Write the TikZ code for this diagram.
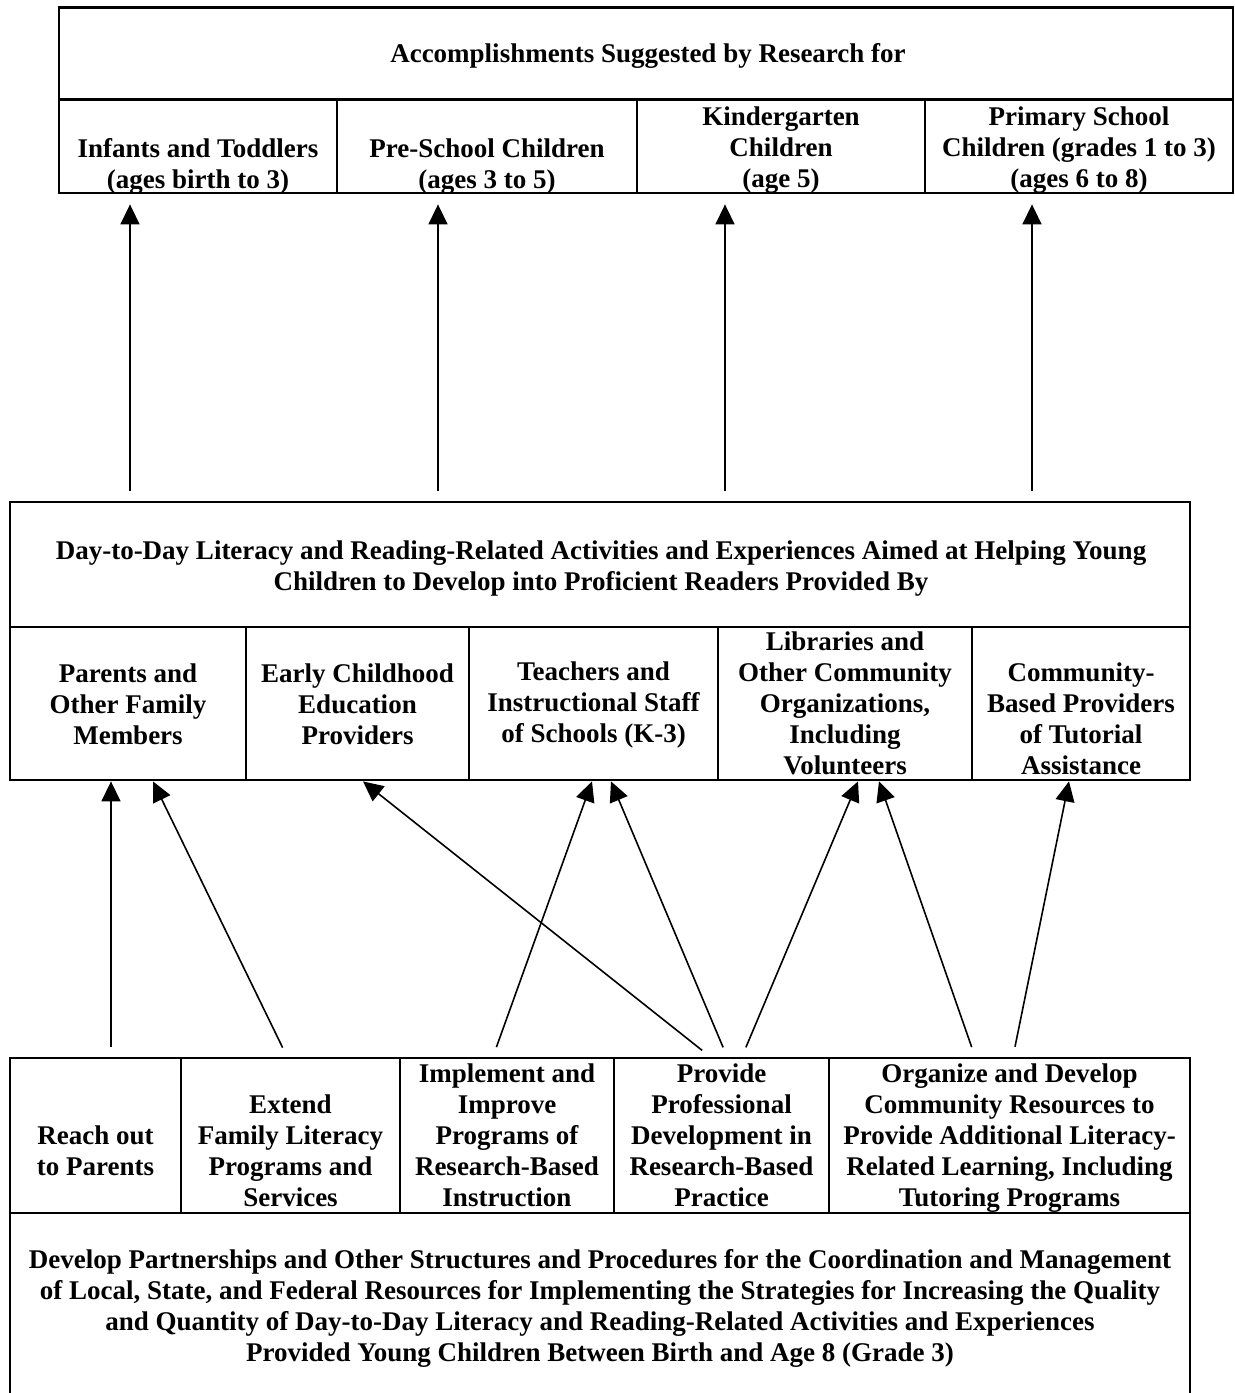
\documentclass[tikz,border=0pt]{standalone}
\usepackage{fontspec}
\setmainfont{Liberation Serif}
\usetikzlibrary{positioning, arrows.meta}

\begin{document}
\begin{tikzpicture}[
    x=0.5pt, y=-0.5pt,
    >={Triangle[length=10pt, width=9.5pt]},
    box/.style={draw, line width=1.4pt, inner sep=0pt},
    txt/.style={align=center, inner sep=0pt,
        font=\fontsize{13.5}{15.5}\selectfont\bfseries},
    arr/.style={->, line width=0.8pt}
]
\useasboundingbox (0,0) rectangle (1235,1393);
\clip (0,0) rectangle (1235,1393);

    % Accomplishments (top row)
    \node[box, minimum width=587pt, minimum height=46pt] (acc) at (646,53.5) {};
    \node[txt] (accT) at (648,56) {Accomplishments Suggested by Research for};
    \node[box, minimum width=139pt, minimum height=47pt] (infants) at (198,146) {};
    \node[box, minimum width=150pt, minimum height=47pt] (preschool) at (487,146) {};
    \node[box, minimum width=144pt, minimum height=47pt] (kinder) at (781,146) {};
    \node[box, minimum width=154pt, minimum height=47pt] (primary) at (1079,146) {};
    \node[txt] (infantsT) at (198,166.5) {Infants and Toddlers\\(ages birth to 3)};
    \node[txt] (preschoolT) at (487,166.5) {Pre-School Children\\(ages 3 to 5)};
    \node[txt] (kinderT) at (781,150.5) {Kindergarten\\Children\\(age 5)};
    \node[txt] (primaryT) at (1079,150.5) {Primary School\\Children (grades 1 to 3)\\(ages 6 to 8)};

    % Day-to-day activities (middle row)
    \node[box, minimum width=590pt, minimum height=62.5pt] (daily) at (600,564.5) {};
    \node[txt] (dailyT) at (601,568.5)
        {Day-to-Day Literacy and Reading-Related Activities and Experiences Aimed at Helping Young\\
         Children to Develop into Proficient Readers Provided By};
    \node[box, minimum width=118pt, minimum height=76.5pt] (parents) at (128,703.5) {};
    \node[box, minimum width=111.5pt, minimum height=76.5pt] (early) at (357.5,703.5) {};
    \node[box, minimum width=124.5pt, minimum height=76.5pt] (teachers) at (593.5,703.5) {};
    \node[box, minimum width=127pt, minimum height=76.5pt] (libraries) at (845,703.5) {};
    \node[box, minimum width=109pt, minimum height=76.5pt] (community) at (1081,703.5) {};
    \node[txt] (parentsT) at (128,704.5) {Parents and\\Other Family\\Members};
    \node[txt] (earlyT) at (357.5,704.5) {Early Childhood\\Education\\Providers};
    \node[txt] (teachersT) at (593.5,704.5) {Teachers and\\Instructional Staff\\of Schools (K-3)};
    \node[txt] (librariesT) at (845,703) {Libraries and\\Other Community\\Organizations,\\Including\\Volunteers};
    \node[txt] (communityT) at (1081,718.5) {Community-\\Based Providers\\of Tutorial\\Assistance};

    % Strategies (bottom row)
    \node[box, minimum width=85.5pt, minimum height=77.5pt] (reach) at (95.5,1135.5) {};
    \node[box, minimum width=109.5pt, minimum height=77.5pt] (extend) at (290.5,1135.5) {};
    \node[box, minimum width=107pt, minimum height=77.5pt] (implement) at (507,1135.5) {};
    \node[box, minimum width=107.5pt, minimum height=77.5pt] (provide) at (721.5,1135.5) {};
    \node[box, minimum width=180.5pt, minimum height=77.5pt] (organize) at (1009.5,1135.5) {};
    \node[txt] (reachT) at (95.5,1151) {Reach out\\to Parents};
    \node[txt] (extendT) at (290.5,1150.5) {Extend\\Family Literacy\\Programs and\\Services};
    \node[txt] (implementT) at (507,1135.5) {Implement and\\Improve\\Programs of\\Research-Based\\Instruction};
    \node[txt] (provideT) at (721.5,1135.5) {Provide\\Professional\\Development in\\Research-Based\\Practice};
    \node[txt] (organizeT) at (1009.5,1138) {Organize and Develop\\Community Resources to\\Provide Additional Literacy-\\Related Learning, Including\\Tutoring Programs};
    \node[box, minimum width=590pt, minimum height=105pt] (partners) at (600,1318) {};
    \node[txt] (partnersT) at (600,1308)
        {Develop Partnerships and Other Structures and Procedures for the Coordination and Management\\
         of Local, State, and Federal Resources for Implementing the Strategies for Increasing the Quality\\
         and Quantity of Day-to-Day Literacy and Reading-Related Activities and Experiences\\
         Provided Young Children Between Birth and Age 8 (Grade 3)};

    % Arrows up to the accomplishments
    \draw[arr, shorten <=5pt, shorten >=5pt] (daily.north -| 130,0) -- (infants.south -| 130,0);
    \draw[arr, shorten <=5pt, shorten >=5pt] (daily.north -| 438,0) -- (preschool.south -| 438,0);
    \draw[arr, shorten <=5pt, shorten >=5pt] (daily.north -| 725,0) -- (kinder.south -| 725,0);
    \draw[arr, shorten <=5pt, shorten >=5pt] (daily.north -| 1032,0) -- (primary.south -| 1032,0);

    % Arrows from the strategies to the providers
    \draw[arr, shorten <=5pt] (reach.north -| 111,0) -- (parents.south -| 111,0);
    \draw[arr, shorten <=5pt] (extend.north -| 287,0) -- (parents.south -| 153,0);
    \draw[arr, shorten <=5pt] (provide.north -| 710,0) -- (early.south -| 363,0);
    \draw[arr, shorten <=5pt] (implement.north -| 493,0) -- (teachers.south -| 592,0);
    \draw[arr, shorten <=5pt] (provide.north -| 727,0) -- (teachers.south -| 611,0);
    \draw[arr, shorten <=5pt] (provide.north -| 742,0) -- (libraries.south -| 858,0);
    \draw[arr, shorten <=5pt] (organize.north -| 975,0) -- (libraries.south -| 879,0);
    \draw[arr, shorten <=5pt] (organize.north -| 1013,0) -- (community.south -| 1069,0);
\end{tikzpicture}
\end{document}
